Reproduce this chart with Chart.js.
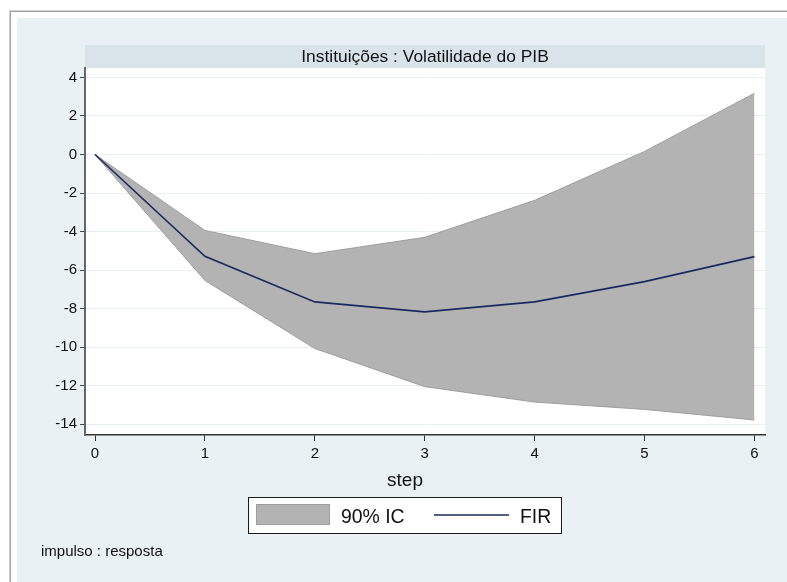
<!DOCTYPE html>
<html>
<head>
<meta charset="utf-8">
<title>Instituições : Volatilidade do PIB</title>
<script src="https://cdn.jsdelivr.net/npm/chart.js@4.4.1/dist/chart.umd.min.js"></script>
<style>
  html, body { margin: 0; padding: 0; background: #ffffff; }
  #wrap { width: 787px; height: 582px; }
</style>
</head>
<body>
<div id="wrap"><canvas id="irf" width="787" height="582"></canvas></div>
<script>
// Impulse-response steps and estimates
const steps = [0, 1, 2, 3, 4, 5, 6];
const firValues = [0, -5.28, -7.65, -8.17, -7.65, -6.60, -5.30];
const upperCI = [0, -3.94, -5.15, -4.30, -2.38, 0.16, 3.18];
const lowerCI = [0, -6.54, -10.07, -12.05, -12.85, -13.23, -13.78];

// Axis ticks
const xTickValues = [0, 1, 2, 3, 4, 5, 6];
const yTickValues = [-14, -12, -10, -8, -6, -4, -2, 0, 2, 4];

// Texts
const panelTitle = 'Instituições : Volatilidade do PIB';
const xAxisTitle = 'step';
const bandLabel = '90% IC';
const lineLabel = 'FIR';
const noteText = 'impulso : resposta';

const FONT = "'Liberation Sans', Arial, Helvetica, sans-serif";
const INK = '#111111';
const BAND_FILL = '#b3b3b3';
const BAND_EDGE = '#9e9e9e';
const LINE_COLOR = '#1b2a5e';

const toPoints = vals => steps.map((s, i) => ({ x: s, y: vals[i] }));

// Backgrounds, panel strip and title, legend, notes
const frame = {
  id: 'frame',
  beforeDraw(chart) {
    const ctx = chart.ctx;
    const a = chart.chartArea;
    ctx.save();
    ctx.fillStyle = '#ffffff';
    ctx.fillRect(0, 0, chart.width, chart.height);
    ctx.strokeStyle = '#a3a3a3';
    ctx.lineWidth = 1.5;
    ctx.strokeRect(10.25, 11.25, 900, 700);
    ctx.fillStyle = '#eaf1f4';
    ctx.fillRect(17, 18, chart.width - 17, chart.height - 18);
    // plot region
    ctx.fillStyle = '#ffffff';
    ctx.fillRect(a.left, a.top, a.right - a.left, a.bottom - a.top);
    // panel label strip
    ctx.fillStyle = '#d9e4ea';
    ctx.fillRect(a.left, 45, a.right - a.left, a.top - 45);
    ctx.fillStyle = INK;
    ctx.font = '17.4px ' + FONT;
    ctx.textAlign = 'center';
    ctx.textBaseline = 'middle';
    ctx.fillText(panelTitle, (a.left + a.right) / 2, 57);
    ctx.restore();
  },
  afterDraw(chart) {
    const ctx = chart.ctx;
    ctx.save();
    // x axis title
    ctx.fillStyle = INK;
    ctx.font = '19px ' + FONT;
    ctx.textAlign = 'center';
    ctx.textBaseline = 'alphabetic';
    ctx.fillText(xAxisTitle, 405, 486);

    // legend box
    const lx = 248, ly = 497, lw = 313, lh = 36;
    ctx.fillStyle = '#ffffff';
    ctx.fillRect(lx, ly, lw, lh);
    ctx.strokeStyle = '#1a1a1a';
    ctx.lineWidth = 1;
    ctx.strokeRect(lx + 0.5, ly + 0.5, lw, lh);
    // band key
    ctx.fillStyle = BAND_FILL;
    ctx.fillRect(256, 504, 74, 21);
    ctx.strokeStyle = BAND_EDGE;
    ctx.strokeRect(256.5, 504.5, 73, 20);
    // line key
    ctx.strokeStyle = LINE_COLOR;
    ctx.lineWidth = 1.6;
    ctx.beginPath();
    ctx.moveTo(434, 515);
    ctx.lineTo(509, 515);
    ctx.stroke();
    ctx.fillStyle = INK;
    ctx.font = '19.4px ' + FONT;
    ctx.textAlign = 'left';
    ctx.textBaseline = 'alphabetic';
    ctx.fillText(bandLabel, 341, 523);
    ctx.fillText(lineLabel, 520, 523);

    // note
    ctx.font = '15px ' + FONT;
    ctx.fillText(noteText, 41, 556);
    ctx.restore();
  }
};

new Chart(document.getElementById('irf'), {
  type: 'line',
  data: {
    datasets: [
      {
        label: bandLabel,
        data: toPoints(upperCI),
        fill: '+1',
        backgroundColor: BAND_FILL,
        borderColor: BAND_EDGE,
        borderWidth: 1,
        pointRadius: 0,
        tension: 0,
        order: 2
      },
      {
        label: bandLabel + ' (inferior)',
        data: toPoints(lowerCI),
        fill: false,
        borderColor: BAND_EDGE,
        borderWidth: 1,
        pointRadius: 0,
        tension: 0,
        order: 1
      },
      {
        label: lineLabel,
        data: toPoints(firValues),
        fill: false,
        borderColor: LINE_COLOR,
        borderWidth: 1.6,
        pointRadius: 0,
        tension: 0,
        order: 0
      }
    ]
  },
  options: {
    responsive: false,
    animation: false,
    devicePixelRatio: 1,
    layout: { padding: { left: 0, top: 68, right: 22, bottom: 0 } },
    plugins: {
      legend: { display: false },
      title: { display: false },
      tooltip: { enabled: false }
    },
    scales: {
      x: {
        type: 'linear',
        min: -0.091,
        max: 6.096,
        afterBuildTicks: s => { s.ticks = xTickValues.map(v => ({ value: v })); },
        afterFit: s => { s.height = 147; },
        grid: { drawOnChartArea: false, drawTicks: true, tickLength: 6, tickColor: '#333333', tickWidth: 1 },
        border: { color: '#333333', width: 1.5 },
        ticks: { font: { family: FONT, size: 15 }, color: INK, padding: 4, maxRotation: 0, autoSkip: false }
      },
      y: {
        type: 'linear',
        min: -14.56,
        max: 4.49,
        afterBuildTicks: s => { s.ticks = yTickValues.map(v => ({ value: v })); },
        afterFit: s => { s.width = 85; },
        grid: { color: '#e8eff2', lineWidth: 1, tickLength: 5, tickColor: '#444444', tickWidth: 1 },
        border: { color: '#666666', width: 2 },
        ticks: { font: { family: FONT, size: 15 }, color: INK, padding: 3, autoSkip: false }
      }
    }
  },
  plugins: [frame]
});
</script>
</body>
</html>
